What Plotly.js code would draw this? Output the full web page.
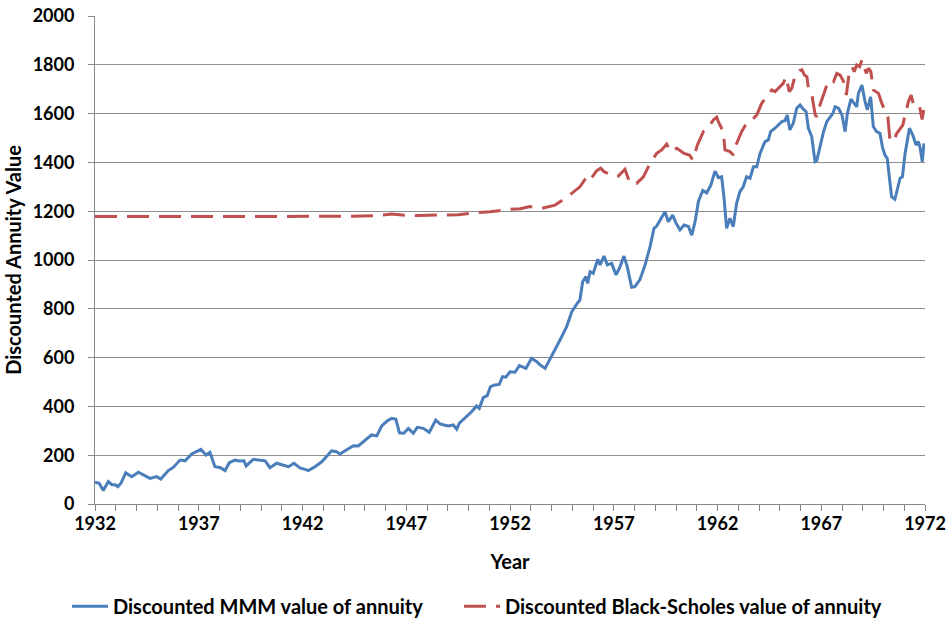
<!DOCTYPE html>
<html>
<head>
<meta charset="utf-8">
<script src="https://cdn.plot.ly/plotly-3.0.1.min.js"></script>
<style>html,body{margin:0;padding:0;background:#fff;}#chart{width:950px;height:620px;}</style>
</head>
<body>
<div id="chart"></div>
<script>
const mmmYears = [1932.0,1932.2,1932.4,1932.64,1932.8,1933.0,1933.1,1933.25,1933.48,1933.77,1934.09,1934.33,1934.65,1934.97,1935.17,1935.53,1935.77,1936.1,1936.34,1936.66,1936.9,1937.1,1937.35,1937.54,1937.78,1938.02,1938.27,1938.47,1938.75,1938.95,1939.18,1939.28,1939.63,1939.95,1940.2,1940.43,1940.76,1941.04,1941.32,1941.59,1941.88,1942.12,1942.28,1942.6,1942.93,1943.4,1943.64,1943.8,1944.13,1944.45,1944.69,1945.01,1945.33,1945.58,1945.82,1946.09,1946.3,1946.5,1946.67,1946.89,1947.1,1947.34,1947.53,1947.82,1948.11,1948.42,1948.63,1948.82,1949.03,1949.27,1949.43,1949.56,1949.83,1950.15,1950.39,1950.52,1950.71,1950.9,1951.06,1951.27,1951.48,1951.64,1951.8,1952.0,1952.24,1952.45,1952.77,1953.04,1953.29,1953.45,1953.69,1954.09,1954.41,1954.73,1954.98,1955.24,1955.37,1955.5,1955.66,1955.74,1955.86,1956.01,1956.23,1956.34,1956.53,1956.69,1956.9,1957.11,1957.27,1957.49,1957.65,1957.86,1958.02,1958.27,1958.51,1958.75,1958.94,1959.07,1959.23,1959.47,1959.63,1959.84,1959.99,1960.19,1960.39,1960.6,1960.76,1960.92,1961.08,1961.29,1961.48,1961.67,1961.88,1962.04,1962.2,1962.31,1962.44,1962.6,1962.76,1962.92,1963.08,1963.24,1963.4,1963.57,1963.73,1963.89,1964.05,1964.29,1964.45,1964.56,1964.77,1964.93,1965.1,1965.25,1965.36,1965.49,1965.65,1965.82,1965.98,1966.1,1966.27,1966.38,1966.54,1966.7,1966.78,1966.94,1967.11,1967.27,1967.43,1967.56,1967.67,1967.83,1968.0,1968.15,1968.26,1968.43,1968.59,1968.71,1968.79,1968.96,1969.11,1969.22,1969.38,1969.51,1969.67,1969.83,1969.96,1970.07,1970.18,1970.31,1970.39,1970.55,1970.68,1970.8,1970.91,1971.04,1971.25,1971.41,1971.57,1971.68,1971.76,1971.87,1971.95];
const mmmValues = [89,85,55,92,80,78,71,85,128,112,130,119,105,112,102,137,150,180,177,205,214,224,201,212,153,150,137,169,180,176,177,156,183,180,177,149,167,160,153,167,148,142,137,153,173,218,214,205,221,239,238,259,283,279,320,341,351,347,292,290,310,290,314,310,294,344,328,324,320,324,307,331,351,378,402,392,436,444,481,488,490,522,520,542,540,567,556,597,583,570,556,617,672,727,788,822,836,911,932,904,952,945,1003,980,1016,980,986,939,966,1016,973,888,891,921,980,1055,1130,1139,1164,1198,1157,1184,1153,1123,1143,1137,1102,1157,1240,1285,1275,1305,1364,1338,1341,1259,1130,1171,1137,1232,1280,1300,1341,1335,1382,1382,1437,1485,1492,1526,1540,1553,1567,1571,1594,1533,1560,1622,1635,1622,1608,1540,1506,1403,1407,1464,1526,1567,1587,1601,1628,1622,1594,1526,1601,1659,1642,1628,1683,1717,1649,1615,1669,1546,1526,1519,1458,1430,1417,1314,1259,1249,1300,1335,1341,1437,1540,1512,1471,1485,1462,1403,1478];

const bsYears = [1932.0,1934,1936,1938,1940,1942,1944,1945.5,1946.3,1946.8,1947.6,1948.5,1949.5,1950.4,1951.04,1952.0,1952.5,1952.96,1953.53,1954.17,1954.81,1955.37,1955.7,1955.86,1956.18,1956.37,1956.53,1957.06,1957.22,1957.54,1957.78,1958.1,1958.43,1958.75,1959.07,1959.31,1959.55,1959.75,1960.04,1960.39,1960.65,1960.81,1961.03,1961.32,1961.48,1961.8,1961.96,1962.04,1962.28,1962.36,1962.6,1962.76,1962.89,1963.16,1963.4,1963.57,1963.89,1964.13,1964.37,1964.62,1964.77,1964.93,1965.17,1965.3,1965.46,1965.58,1965.75,1965.95,1966.07,1966.19,1966.31,1966.39,1966.55,1966.71,1966.79,1966.91,1967.11,1967.27,1967.43,1967.59,1967.75,1967.91,1968.08,1968.21,1968.32,1968.48,1968.59,1968.71,1968.85,1968.96,1969.04,1969.17,1969.29,1969.39,1969.51,1969.76,1969.92,1970.08,1970.21,1970.31,1970.47,1970.64,1970.8,1970.93,1971.04,1971.2,1971.33,1971.45,1971.61,1971.74,1971.86,1971.95];
const bsValues = [1178,1178,1178,1179,1178,1178,1179,1182,1188,1184,1182,1184,1185,1194,1198,1208,1210,1219,1212,1225,1262,1300,1341,1328,1366,1376,1362,1341,1344,1372,1314,1314,1341,1396,1437,1451,1475,1444,1458,1437,1430,1410,1471,1526,1533,1574,1585,1567,1526,1451,1444,1430,1471,1526,1560,1567,1594,1642,1669,1697,1690,1704,1724,1751,1690,1704,1758,1776,1779,1758,1751,1697,1676,1594,1587,1628,1683,1717,1738,1731,1765,1758,1731,1676,1751,1792,1772,1799,1792,1820,1799,1765,1786,1772,1697,1683,1642,1608,1587,1492,1485,1519,1540,1553,1594,1649,1676,1635,1622,1628,1576,1622];

const seriesNames = ["Discounted MMM value of annuity", "Discounted Black-Scholes value of annuity"];
const xTickVals = [1932,1937,1942,1947,1952,1957,1962,1967,1972];
const yTickVals = [0,200,400,600,800,1000,1200,1400,1600,1800,2000];

const FONT = "Lato, 'Open Sans', sans-serif";

const traces = [
  {x: mmmYears, y: mmmValues, type: 'scatter', mode: 'lines', name: seriesNames[0], legend: 'legend',
   line: {color: '#4A7EBB', width: 3}},
  {x: bsYears, y: bsValues, type: 'scatter', mode: 'lines', name: seriesNames[1], legend: 'legend2',
   line: {color: '#C0504D', width: 3, dash: '22px,10px'}}
];

const legendFont = {family: FONT, size: 20, color: '#000', weight: 'bold'};

const layout = {
  width: 950, height: 620,
  margin: {l: 95, r: 25, t: 16, b: 116},
  paper_bgcolor: '#fff', plot_bgcolor: '#fff',
  font: {family: FONT, size: 18, color: '#000'},
  showlegend: true,
  legend: {orientation: 'h', xref: 'container', yref: 'container', x: 67/950, xanchor: 'left', y: 0.022, yanchor: 'middle',
           font: legendFont, itemwidth: 36},
  legend2: {orientation: 'h', xref: 'container', yref: 'container', x: 459/950, xanchor: 'left', y: 0.022, yanchor: 'middle',
           font: legendFont, itemwidth: 36},
  xaxis: {
    range: [1932, 1972], tickvals: xTickVals, ticktext: xTickVals.map(String),
    showgrid: false, zeroline: false, showline: true, linecolor: '#888', linewidth: 1,
    ticks: 'outside', ticklen: 6, tickcolor: '#888', ticklabelstandoff: -3,
    minor: {dtick: 1, tick0: 1932, ticks: 'outside', ticklen: 6, tickcolor: '#888', showgrid: false},
    tickfont: {family: FONT, size: 18, weight: 'bold'},
    title: {text: 'Year', font: {family: FONT, size: 20, weight: 'bold'}, standoff: 22}
  },
  yaxis: {
    range: [0, 2000], tickvals: yTickVals, ticktext: yTickVals.map(String),
    showgrid: true, gridcolor: '#8c8c8c', gridwidth: 1, zeroline: false,
    showline: true, linecolor: '#888', linewidth: 1,
    ticks: 'outside', ticklen: 6, tickcolor: '#888', ticklabelstandoff: 10,
    tickfont: {family: FONT, size: 18, weight: 'bold'},
    title: {text: 'Discounted Annuity Value', font: {family: FONT, size: 20, weight: 'bold'}, standoff: 5}
  }
};

Plotly.newPlot('chart', traces, layout, {displayModeBar: false, staticPlot: true});
</script>
</body>
</html>
